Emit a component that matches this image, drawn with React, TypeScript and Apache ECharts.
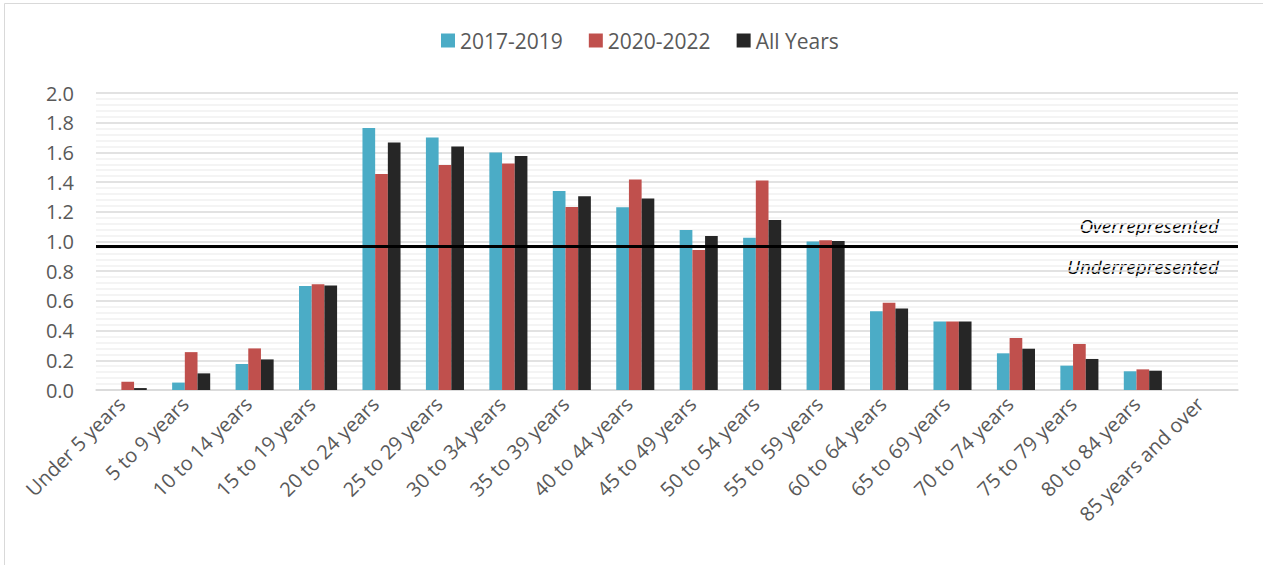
import React, { useEffect, useRef } from "react";
import * as echarts from "echarts";

const categories = [
  "Under 5 years", "5 to 9 years", "10 to 14 years", "15 to 19 years",
  "20 to 24 years", "25 to 29 years", "30 to 34 years", "35 to 39 years",
  "40 to 44 years", "45 to 49 years", "50 to 54 years", "55 to 59 years",
  "60 to 64 years", "65 to 69 years", "70 to 74 years", "75 to 79 years",
  "80 to 84 years", "85 years and over",
];
const seriesNames = ["2017-2019", "2020-2022", "All Years"];
const values2017 = [0, 0.05, 0.175, 0.70, 1.765, 1.70, 1.60, 1.34, 1.23, 1.077, 1.025, 1.00, 0.53, 0.462, 0.247, 0.164, 0.126, 0];
const values2020 = [0.055, 0.255, 0.28, 0.712, 1.455, 1.515, 1.525, 1.232, 1.418, 0.943, 1.41, 1.008, 0.588, 0.462, 0.35, 0.31, 0.139, 0];
const valuesAll = [0.013, 0.112, 0.206, 0.703, 1.667, 1.64, 1.576, 1.304, 1.29, 1.037, 1.145, 1.003, 0.548, 0.462, 0.278, 0.209, 0.13, 0];
const referenceValue = 0.97;
const overLabel = "Overrepresented";
const underLabel = "Underrepresented";

const colors = ["#4BACC6", "#C0504D", "#262626"];
const FONT = "'Open Sans', sans-serif";

export default function App() {
  const ref = useRef<HTMLDivElement>(null);
  useEffect(() => {
    if (!ref.current) return;
    const chart = echarts.init(ref.current, undefined, { renderer: "svg" });
    const data = [values2017, values2020, valuesAll];
    chart.setOption({
      animation: false,
      backgroundColor: "#ffffff",
      textStyle: { fontFamily: FONT },
      legend: {
        left: 436,
        top: 25,
        icon: "rect",
        itemWidth: 14,
        itemHeight: 14,
        itemGap: 26,
        textStyle: { fontSize: 21, color: "#595959", fontFamily: FONT },
        data: seriesNames,
      },
      grid: { left: 96, right: 25, top: 93, bottom: 175, containLabel: false },
      xAxis: {
        type: "category",
        data: categories,
        axisLine: { show: true, lineStyle: { color: "#d9d9d9", width: 1.5 } },
        axisTick: { show: false },
        axisLabel: {
          interval: 0,
          rotate: 45,
          margin: 4,
          padding: [0, 9, 0, 0],
          fontSize: 20,
          color: "#595959",
          fontFamily: FONT,
        },
      },
      yAxis: {
        type: "value",
        min: 0,
        max: 2,
        interval: 0.2,
        axisLine: { show: false },
        axisTick: { show: false },
        axisLabel: {
          fontSize: 20,
          color: "#595959",
          margin: 22,
          fontFamily: FONT,
          formatter: (v: number) => v.toFixed(1),
        },
        splitLine: { show: true, lineStyle: { color: "#d9d9d9", width: 1.5 } },
        minorTick: { show: false, splitNumber: 5 },
        minorSplitLine: { show: true, lineStyle: { color: "#f0f0f0", width: 1.5 } },
      },
      series: seriesNames.map((name, i) => ({
        name,
        type: "bar",
        data: data[i],
        barGap: "0%",
        barCategoryGap: "40%",
        itemStyle: { color: colors[i] },
        ...(i === 2
          ? {
              markLine: {
                silent: true,
                symbol: "none",
                label: { show: false },
                lineStyle: { color: "#000000", width: 3, type: "solid" },
                data: [{ yAxis: referenceValue }],
              },
            }
          : {}),
      })),
      graphic: [
        {
          type: "rect",
          shape: { x: 4.5, y: 3.5, width: 1300, height: 600 },
          style: { fill: "none", stroke: "#d9d9d9", lineWidth: 1 },
          silent: true,
        },
        {
          type: "text",
          right: 44,
          top: 216,
          style: { text: overLabel, fontSize: 19, fontStyle: "italic", fill: "#000000", fontFamily: FONT },
        },
        {
          type: "text",
          right: 44,
          top: 257,
          style: { text: underLabel, fontSize: 19, fontStyle: "italic", fill: "#000000", fontFamily: FONT },
        },
      ],
    });
    return () => chart.dispose();
  }, []);
  return (
    <div
      ref={ref}
      style={{ position: "absolute", left: 0, top: 0, width: 1263, height: 565 }}
    />
  );
}
